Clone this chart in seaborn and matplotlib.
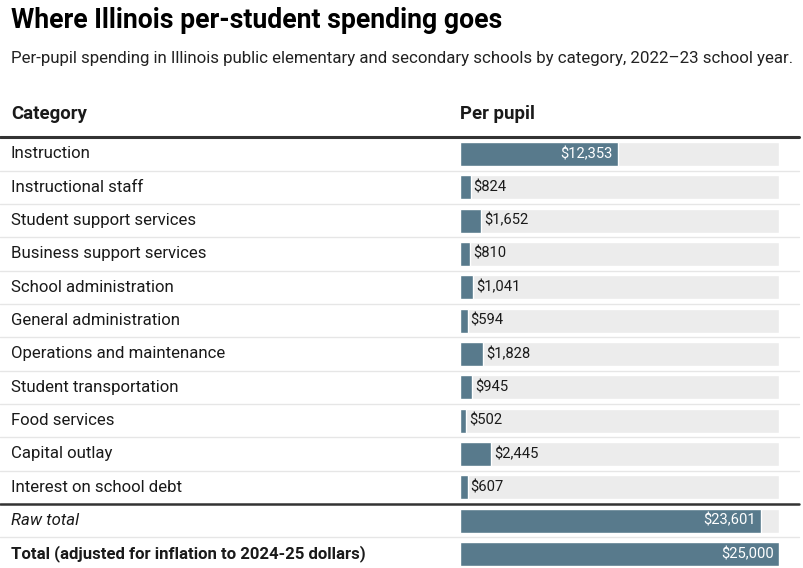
import seaborn as sns
import matplotlib.pyplot as plt
from matplotlib.transforms import blended_transform_factory

# table rows, top to bottom
categories = [
    "Instruction",
    "Instructional staff",
    "Student support services",
    "Business support services",
    "School administration",
    "General administration",
    "Operations and maintenance",
    "Student transportation",
    "Food services",
    "Capital outlay",
    "Interest on school debt",
    "Raw total",
    "Total (adjusted for inflation to 2024-25 dollars)",
]
per_pupil = [12353, 824, 1652, 810, 1041, 594, 1828, 945, 502, 2445, 607, 23601, 25000]
max_value = 25000

bar_color = "#587a8c"
track_color = "#ececec"
text_color = "#1a1a1a"

sns.set_style("white")
plt.rcParams["font.family"] = ["Roboto", "DejaVu Sans"]

W, H = 804, 568
fig = plt.figure(figsize=(W / 100, H / 100), dpi=100)

# bar column sits at x=460..779 px, rows start under the header rule
row_h = 33.33
top_px = 137.3
ax = fig.add_axes([460 / W, 0, 319 / W, 1 - top_px / H])

n = len(categories)
pos = list(range(n))
ax.barh(pos, [max_value] * n, height=0.72, color=track_color, zorder=1)
sns.barplot(x=per_pupil, y=categories, order=categories, orient="h",
            color=bar_color, saturation=1, width=0.72, ax=ax, zorder=2)

ax.set_xlim(0, max_value)
ax.set_ylim(-0.5 + H * (1 - top_px / H) / row_h, -0.5)
ax.axis("off")

# labels inside long bars, outside short ones
for i, v in enumerate(per_pupil):
    label = f"${v:,}"
    if v > 8000:
        ax.annotate(label, (v, i), xytext=(-5, 0), textcoords="offset pixels",
                    ha="right", va="center", fontsize=10.6, color="white", zorder=3)
    else:
        ax.annotate(label, (v, i), xytext=(3, 0), textcoords="offset pixels",
                    ha="left", va="center", fontsize=10.6, color=text_color, zorder=3)

# category column and row rules, x in figure fraction, y in rows
tr = blended_transform_factory(fig.transFigure, ax.transData)
for i, name in enumerate(categories):
    style = "normal"
    weight = "normal"
    if name == "Raw total":
        style = "italic"
    if name.startswith("Total"):
        weight = "bold"
    ax.text(11 / W, i, name, transform=tr, ha="left", va="center",
            fontsize=12.1, color=text_color, style=style, weight=weight)

for i in range(n - 1):
    y = i + 0.5
    if i == 10:
        ax.plot([0, 799 / W], [y, y], transform=tr, color="#333333", lw=1.8,
                clip_on=False, zorder=4)
    else:
        ax.plot([0, 799 / W], [y, y], transform=tr, color="#e6e6e6", lw=1,
                clip_on=False, zorder=0)

# header rule
ax.plot([0, 799 / W], [-0.5, -0.5], transform=tr, color="#333333", lw=2.2,
        clip_on=False, zorder=4)

# title, subtitle, header
fig.text(11 / W, 1 - 20 / H, "Where Illinois per-student spending goes",
         ha="left", va="center", fontsize=19.2, weight="bold", color="#000000")
fig.text(11 / W, 1 - 58 / H,
         "Per-pupil spending in Illinois public elementary and secondary schools by category, 2022\u201323 school year.",
         ha="left", va="center", fontsize=12.2, color="#222222")
fig.text(11 / W, 1 - 114 / H, "Category", ha="left", va="center",
         fontsize=13.4, weight="bold", color=text_color)
fig.text(460 / W, 1 - 114 / H, "Per pupil", ha="left", va="center",
         fontsize=13.4, weight="bold", color=text_color)

fig.savefig("out.png", dpi=100, facecolor="white")
